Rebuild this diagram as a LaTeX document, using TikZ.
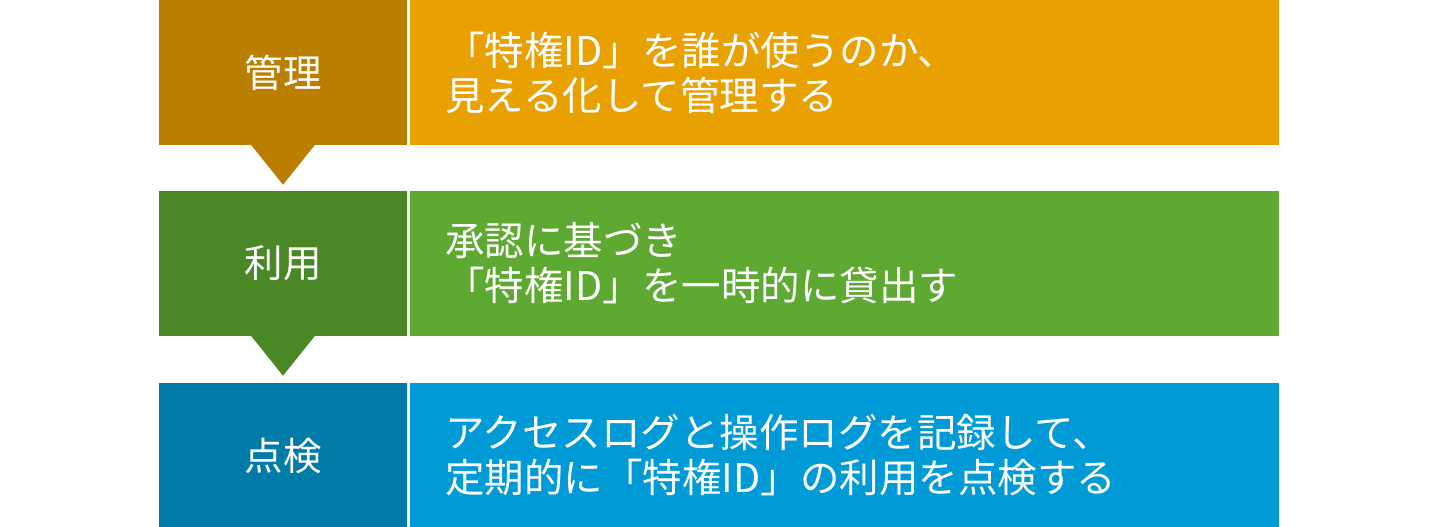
\documentclass[tikz,border=0pt]{standalone}
\usepackage{fontspec}
\setmainfont{Noto Sans CJK JP}
\usetikzlibrary{positioning}

\definecolor{goldL}{RGB}{186,127,0}
\definecolor{goldR}{RGB}{232,161,0}
\definecolor{greenL}{RGB}{74,136,38}
\definecolor{greenR}{RGB}{94,169,50}
\definecolor{blueL}{RGB}{0,122,166}
\definecolor{blueR}{RGB}{0,155,214}

\tikzset{
  stage/.style={fill=#1, text=white, minimum width=248pt, minimum height=145pt, inner sep=0pt, font=\fontsize{38.5}{44}\selectfont},
  detail/.style={fill=#1, text=white, minimum height=145pt, inner ysep=0pt, inner xsep=35pt, text width=799pt, align=left, font=\fontsize{39.5}{45}\selectfont},
}

\begin{document}
\begin{tikzpicture}[x=1pt,y=1pt]
    \useasboundingbox (0,0) rectangle (1441,-527);

    % draw stages
    \node[stage=goldL] (kanri) at (283,-72.5) {管理};
    \node[stage=greenL] (riyou) at (283,-263.5) {利用};
    \node[stage=blueL] (tenken) at (283,-455.5) {点検};

    % draw details
    \node[detail=goldR, right=3pt of kanri] (kanriText) {「特権ID」を誰が使うのか、\\見える化して管理する};
    \node[detail=greenR, right=3pt of riyou] (riyouText) {承認に基づき\\「特権ID」を一時的に貸出す};
    \node[detail=blueR, right=3pt of tenken] (tenkenText) {アクセスログと操作ログを記録して、\\定期的に「特権ID」の利用を点検する};

    % draw arrows
    \foreach \s/\c in {kanri/goldL, riyou/greenL}
    \fill[\c] ([xshift=-32.5pt,yshift=1pt]\s.south) -- ([xshift=32.5pt,yshift=1pt]\s.south) -- ([yshift=-39.5pt]\s.south) -- cycle;
\end{tikzpicture}
\end{document}
